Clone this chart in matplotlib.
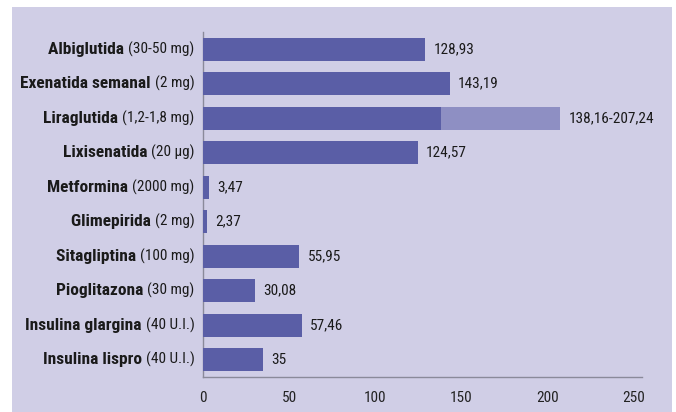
import matplotlib
matplotlib.use("Agg")
import matplotlib.pyplot as plt
from matplotlib.patches import Rectangle
from matplotlib import font_manager

names = ["Albiglutida", "Exenatida semanal", "Liraglutida", "Lixisenatida", "Metformina",
         "Glimepirida", "Sitagliptina", "Pioglitazona", "Insulina glargina", "Insulina lispro"]
doses = ["(30-50 mg)", "(2 mg)", "(1,2-1,8 mg)", "(20 µg)", "(2000 mg)",
         "(2 mg)", "(100 mg)", "(30 mg)", "(40 U.I.)", "(40 U.I.)"]
values = [128.93, 143.19, 138.16, 124.57, 3.47, 2.37, 55.95, 30.08, 57.46, 35]
range_high = [None, None, 207.24, None, None, None, None, None, None, None]
value_labels = ["128,93", "143,19", "138,16-207,24", "124,57", "3,47", "2,37",
                "55,95", "30,08", "57,46", "35"]
xticks = [0, 50, 100, 150, 200, 250]

avail = {f.name for f in font_manager.fontManager.ttflist}
fam = [f for f in ["Liberation Sans Narrow", "Roboto Condensed", "Open Sans Condensed"] if f in avail]
plt.rcParams['font.family'] = fam + ['DejaVu Sans']

BG = "#d0cee6"
DARK = "#5a5ea6"
LIGHT = "#8e8fc3"
TXT = "#1a1a1a"

fig = plt.figure(figsize=(6.76, 4.12), dpi=100)
fig.patch.set_facecolor("white")
bg = Rectangle((12/676, 0), 660/676, 405/412, transform=fig.transFigure,
               facecolor=BG, edgecolor="none", zorder=-10)
fig.add_artist(bg)

ax = fig.add_axes([203/676, 35/412, 438.5/676, 345/412])
ax.set_facecolor("none")
ax.set_zorder(5)

ypos = list(range(len(names)))
for i, v in enumerate(values):
    hi = range_high[i]
    if hi is not None:
        ax.barh(i, hi - v, left=v, height=0.66, color=LIGHT, zorder=2)
        end = hi
    else:
        end = v
    ax.barh(i, v, height=0.66, color=DARK, zorder=3)
    ax.annotate(value_labels[i], xy=(end, i), xytext=(6, 0), textcoords="offset points",
                ha="left", va="center", fontsize=11, color=TXT)

ax.set_xlim(0, 254.5)
ax.set_ylim(9.5, -0.5)
ax.set_xticks(xticks)
ax.set_xticklabels([str(t) for t in xticks], fontsize=11, color="#222222")
ax.tick_params(axis="x", length=0, pad=10)
ax.set_yticks([])
for s in ["top", "right"]:
    ax.spines[s].set_visible(False)
for s in ["left", "bottom"]:
    ax.spines[s].set_color("#8a8a9a")
    ax.spines[s].set_linewidth(1.0)

for i in ypos:
    t = ax.annotate(doses[i], xy=(0, i), xycoords=("axes fraction", "data"),
                    xytext=(-6, 0), textcoords="offset points",
                    ha="right", va="center", fontsize=11, color=TXT)
    ax.annotate(names[i] + " ", xy=(0, 0.5), xycoords=t, ha="right", va="center",
                fontsize=12.5, fontweight="bold", color=TXT)

fig.savefig("out.png", dpi=100, facecolor=fig.get_facecolor())
